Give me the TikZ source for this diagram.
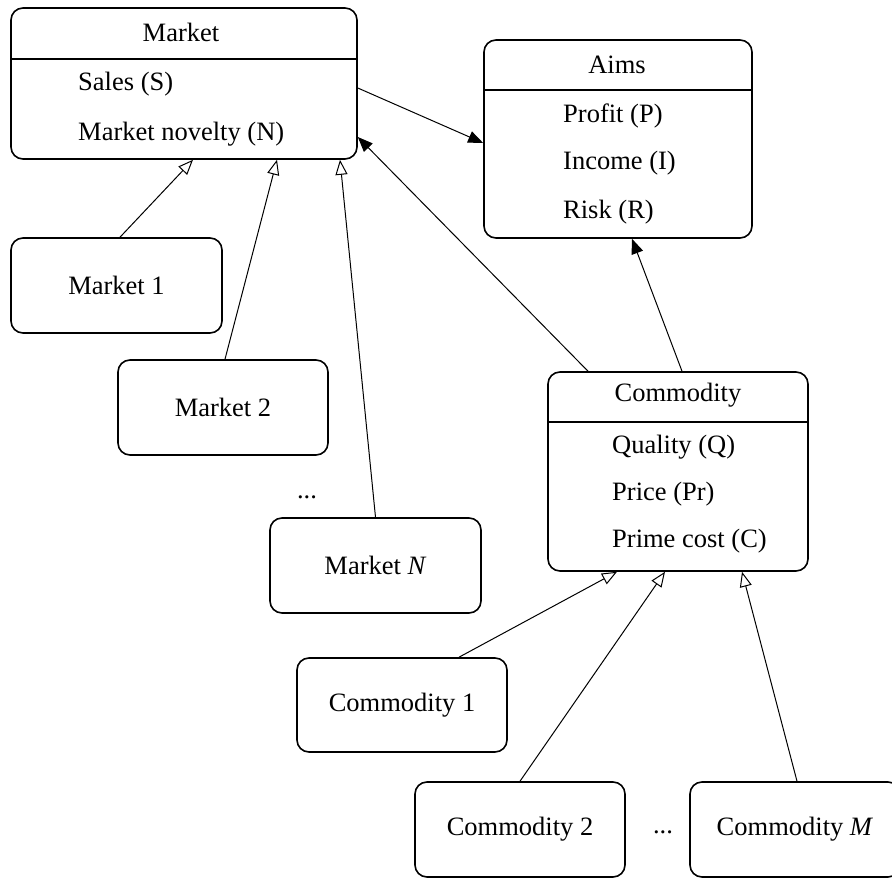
\documentclass[tikz,border=0pt]{standalone}
\usepackage{fontspec}
\setmainfont{Liberation Serif}
\usetikzlibrary{arrows.meta,calc}

\tikzset{
  ubox/.style={draw, line width=1.6pt, rounded corners=12pt, inner sep=0pt},
  lbl/.style={inner sep=0pt, font=\fontsize{26.5}{30}\selectfont},
  attr/.style={lbl, anchor=west},
  uses/.style={-{Triangle[length=15pt,width=12pt]}, line width=1pt},
  isa/.style={-{Triangle[open,length=15pt,width=12pt]}, line width=1pt},
}

\begin{document}
\begin{tikzpicture}[x=1pt, y=-1pt]
	\useasboundingbox (0,0) rectangle (892,878);

	% class boxes
	\node[ubox, minimum width=346pt, minimum height=151pt] (market) at (184,83.5) {};
	\node[ubox, minimum width=268pt, minimum height=198pt] (aims) at (618,139) {};
	\node[ubox, minimum width=260pt, minimum height=199pt] (comm) at (678,471.5) {};
	\draw[line width=1.6pt] (market.west |- 0,59) -- (market.east |- 0,59);
	\draw[line width=1.6pt] (aims.west |- 0,90) -- (aims.east |- 0,90);
	\draw[line width=1.6pt] (comm.west |- 0,422) -- (comm.east |- 0,422);

	\node[lbl] (marketT) at (181,32) {Market};
	\node[attr] (sales) at (78,84) {Sales (S)};
	\node[attr] (novelty) at (78,134) {Market novelty (N)};

	\node[lbl] (aimsT) at (617,65) {Aims};
	\node[attr] (profit) at (563,116) {Profit (P)};
	\node[attr] (income) at (563,163) {Income (I)};
	\node[attr] (risk) at (563,212) {Risk (R)};

	\node[lbl] (commT) at (678,395) {Commodity};
	\node[attr] (quality) at (612,447) {Quality (Q)};
	\node[attr] (price) at (612,494) {Price (Pr)};
	\node[attr] (cost) at (612,541) {Prime cost (C)};

	% markets
	\node[ubox, lbl, minimum width=211pt, minimum height=95pt] (m1) at (116.5,285.5) {Market 1};
	\node[ubox, lbl, minimum width=210pt, minimum height=95pt] (m2) at (223,407.5) {Market 2};
	\node[lbl] (mdots) at (307,497) {...};
	\node[ubox, lbl, minimum width=211pt, minimum height=95pt] (mN) at (375.5,565.5) {Market \textit{N}};

	% commodities
	\node[ubox, lbl, minimum width=210pt, minimum height=94pt] (c1) at (402,705) {Commodity 1};
	\node[ubox, lbl, minimum width=210pt, minimum height=95pt] (c2) at (520,829.5) {Commodity 2};
	\node[lbl] (cdots) at (663,832) {...};
	\node[ubox, lbl, minimum width=210pt, minimum height=95pt] (cM) at (795,829.5) {Commodity \textit{M}};

	% associations
	\draw[uses] ($(market.east)+(0,4.5)$) -- ($(aims.west)+(0,4)$);
	\draw[uses] ($(comm.north)+(-90,0)$) -- ($(market.east)+(0,53.5)$);
	\draw[uses] ($(comm.north)+(4,0)$) -- ($(aims.south)+(14,0)$);

	% generalisations
	\draw[isa] ($(m1.north)+(3.5,0)$) -- ($(market.south)+(9,0)$);
	\draw[isa] ($(m2.north)+(2,0)$) -- ($(market.south)+(93,0)$);
	\draw[isa] (mN.north) -- ($(market.south)+(156,0)$);
	\draw[isa] ($(c1.north)+(57,0)$) -- ($(comm.south)+(-61,0)$);
	\draw[isa] (c2.north) -- ($(comm.south)+(-13,0)$);
	\draw[isa] ($(cM.north)+(2,0)$) -- ($(comm.south)+(64,0)$);
\end{tikzpicture}
\end{document}
